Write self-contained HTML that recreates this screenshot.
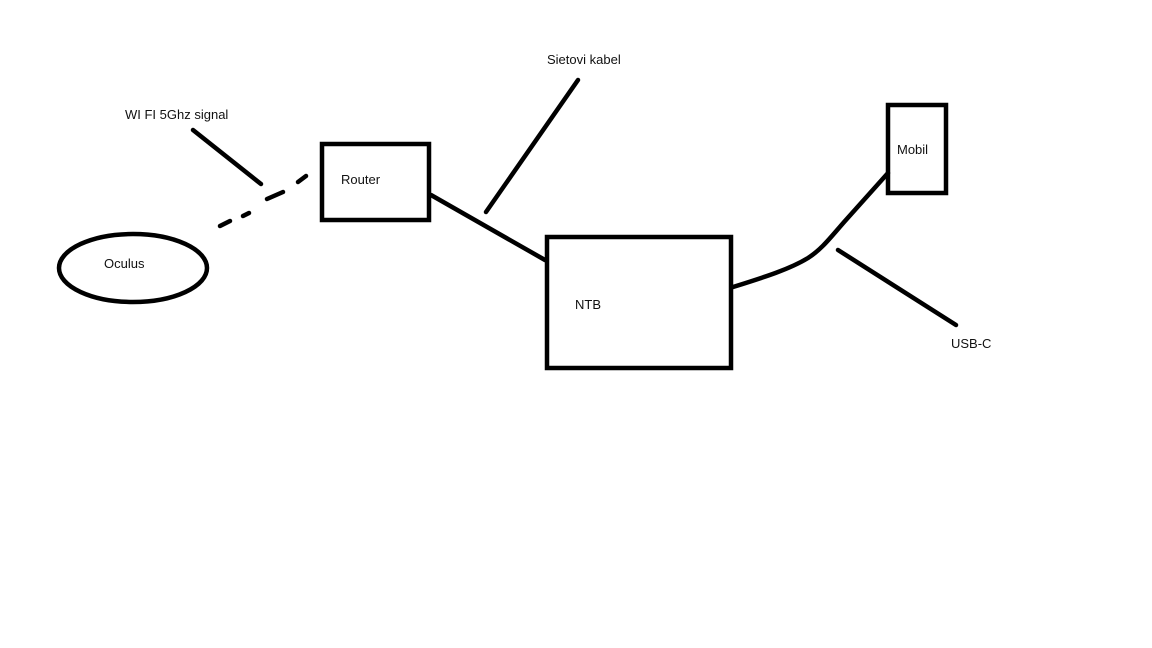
<!DOCTYPE html>
<html><head><meta charset="utf-8"><style>
html,body{margin:0;padding:0;background:#fff;width:1152px;height:648px;overflow:hidden}
svg text{font-family:"Liberation Sans",sans-serif;font-size:13px;fill:#111}
</style></head><body>
<svg width="1152" height="648" viewBox="0 0 1152 648" xmlns="http://www.w3.org/2000/svg">
<g fill="none" stroke="#000" stroke-width="4.5" stroke-linecap="round">
<rect x="322" y="144" width="107" height="76" stroke-linecap="butt"/>
<rect x="547" y="237" width="184" height="131" stroke-linecap="butt"/>
<rect x="888" y="105" width="58" height="88" stroke-linecap="butt"/>
<ellipse cx="133" cy="268" rx="74" ry="34"/>
<line x1="431" y1="195" x2="545" y2="260"/>
<line x1="578" y1="80" x2="486" y2="212"/>
<line x1="193" y1="130" x2="261" y2="184"/>
<line x1="220" y1="226" x2="230" y2="221"/>
<line x1="243" y1="216" x2="249" y2="213"/>
<line x1="267" y1="199" x2="283" y2="192"/>
<line x1="298" y1="182" x2="306" y2="176"/>
<path d="M733,287 C765,277 790,269 808,258 C822,249 830,238 845,221 L888,173"/>
<line x1="838" y1="250" x2="956" y2="325"/>
</g>
<text x="125" y="119">WI FI 5Ghz signal</text>
<text x="341" y="184">Router</text>
<text x="104" y="268">Oculus</text>
<text x="547" y="64">Sietovi kabel</text>
<text x="575" y="309">NTB</text>
<text x="897" y="154">Mobil</text>
<text x="951" y="348">USB-C</text>
</svg>
</body></html>
